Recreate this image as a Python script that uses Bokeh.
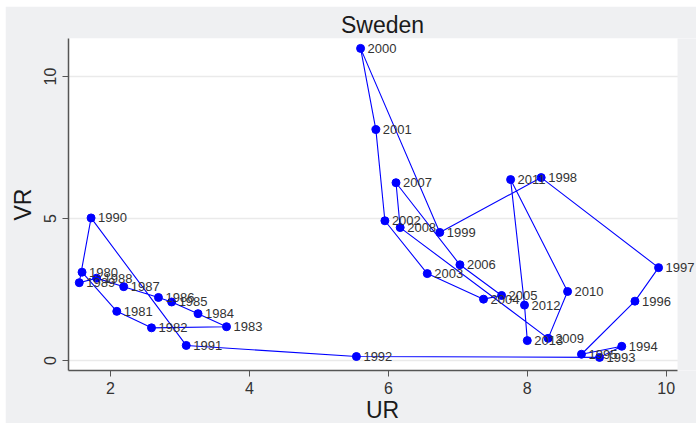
from bokeh.plotting import figure
from bokeh.models import ColumnDataSource, Range1d, FixedTicker, LabelSet
from bokeh.core.properties import value
from bokeh.embed import file_html
from bokeh.resources import INLINE

# Sweden: unemployment rate (UR) vs vacancy rate (VR), 1980-2013
years = [1980, 1981, 1982, 1983, 1984, 1985, 1986, 1987, 1988, 1989,
         1990, 1991, 1992, 1993, 1994, 1995, 1996, 1997, 1998, 1999,
         2000, 2001, 2002, 2003, 2004, 2005, 2006, 2007, 2008, 2009,
         2010, 2011, 2012, 2013]
ur = [1.59, 2.09, 2.59, 3.67, 3.26, 2.88, 2.69, 2.19, 1.80, 1.55,
      1.72, 3.09, 5.54, 9.04, 9.36, 8.78, 9.55, 9.89, 8.20, 6.74,
      5.60, 5.82, 5.95, 6.56, 7.37, 7.63, 7.03, 6.11, 6.17, 8.30,
      8.58, 7.76, 7.96, 8.00]
vr = [3.11, 1.73, 1.15, 1.19, 1.65, 2.06, 2.22, 2.60, 2.90, 2.74,
      5.02, 0.53, 0.14, 0.11, 0.50, 0.22, 2.09, 3.27, 6.44, 4.51,
      10.99, 8.13, 4.92, 3.06, 2.16, 2.29, 3.37, 6.26, 4.68, 0.78,
      2.43, 6.37, 1.95, 0.70]
x_ticks = [2, 4, 6, 8, 10]
y_ticks = [0, 5, 10]

source = ColumnDataSource(data=dict(ur=ur, vr=vr, label=[str(y) for y in years]))

BG = "#EFF0F2"
FONT = "Liberation Sans"
X0, X_PLOT_END = 1.395, 10.163   # white plot region
X1 = 10.436                      # frame runs on to the page edge so labels are not cut
Y0, Y1 = -0.352, 11.338

p = figure(frame_width=628, frame_height=332, output_backend="svg", toolbar_location=None,
           x_range=Range1d(X0, X1), y_range=Range1d(Y0, Y1),
           min_border_left=63, min_border_right=0, min_border_top=32, min_border_bottom=50,
           background_fill_color="white", border_fill_color=BG,
           outline_line_color=None, title="Sweden")
p.margin = (6, 0, 0, 5)

p.title.align = "center"
p.title.offset = -(628 - 609) / 2
p.title.standoff = 2
p.title.text_font = FONT
p.title.text_font_size = "23px"
p.title.text_font_style = "normal"
p.title.text_color = "#1a1a1a"

# grey strip to the right of the plot region, continuing the outer background
p.quad(left=X_PLOT_END, right=X1 + 1, bottom=Y0 - 1, top=Y1 + 1,
       fill_color=BG, line_color=None)

p.line("ur", "vr", source=source, line_color="#0000FF", line_width=1.1)
p.scatter("ur", "vr", source=source, size=8, fill_color="#0000FF", line_color="#0000FF")

labels = LabelSet(x="ur", y="vr", text="label", source=source, x_offset=7, y_offset=0,
                  text_baseline="middle", text_align="left", text_font_size="13px",
                  text_color="#333333", text_font=value(FONT))
p.add_layout(labels)

p.xgrid.grid_line_color = None
p.ygrid.grid_line_color = "#EAEAEA"
p.ygrid.grid_line_width = 1.5

p.xaxis.ticker = FixedTicker(ticks=x_ticks)
p.yaxis.ticker = FixedTicker(ticks=y_ticks)
p.xaxis.bounds = (X0, X_PLOT_END)
p.yaxis.major_label_orientation = "vertical"
for ax in (p.xaxis, p.yaxis):
    ax.axis_line_color = "#555555"
    ax.axis_line_width = 1.5
    ax.major_tick_line_color = "#555555"
    ax.major_tick_out = 6
    ax.major_tick_in = 0
    ax.minor_tick_line_color = None
    ax.major_label_text_font = FONT
    ax.major_label_text_font_size = "16px"
    ax.major_label_text_color = "#333333"
    ax.axis_label_text_font = FONT
    ax.axis_label_text_font_size = "23px"
    ax.axis_label_text_font_style = "normal"
    ax.axis_label_text_color = "#1a1a1a"
p.xaxis.axis_label = "UR"
p.yaxis.axis_label = "VR"
p.xaxis.major_label_standoff = 5
p.yaxis.major_label_standoff = 6
p.xaxis.axis_label_standoff = 0
p.yaxis.axis_label_standoff = 6

open("out.html", "w").write(file_html(p, INLINE))
